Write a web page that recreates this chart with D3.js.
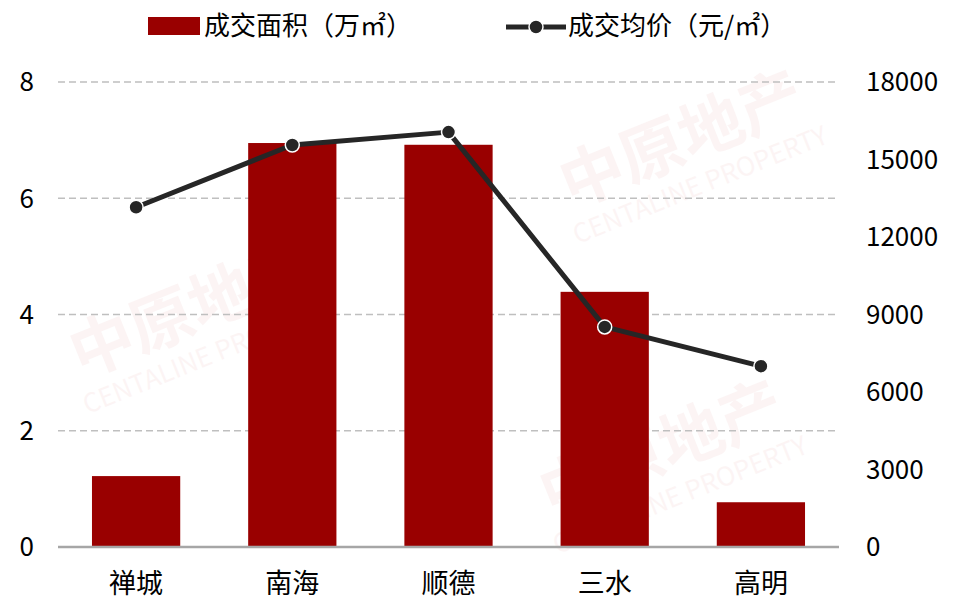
<!DOCTYPE html>
<html>
<head>
<meta charset="utf-8">
<script src="https://cdn.jsdelivr.net/npm/d3@7"></script>
<style>
  body { margin: 0; background: #fff; }
  text { font-family: "Noto Sans CJK SC", "Noto Sans", sans-serif; }
</style>
</head>
<body>
<div id="chart"></div>
<script>
// data
const districts = ["禅城", "南海", "顺德", "三水", "高明"];
const areaVals = [1.22, 6.95, 6.92, 4.39, 0.77];          // 成交面积（万㎡）
const priceVals = [13150, 15560, 16060, 8520, 7000];      // 成交均价（元/㎡）
const leftTicks = [0, 2, 4, 6, 8];
const rightTicks = [0, 3000, 6000, 9000, 12000, 15000, 18000];

const W = 959, H = 606;
const plotL = 58, plotR = 839, plotT = 82, plotB = 547;

const svg = d3.select("#chart").append("svg")
    .attr("width", W)
    .attr("height", H);

// faint watermarks
const marks = [[200, 330], [690, 160], [670, 470]];
marks.forEach(function (m) {
  const g = svg.append("g")
      .attr("transform", `translate(${m[0]},${m[1]}) rotate(-22)`)
      .style("opacity", 0.04);
  g.append("text").attr("x", 0).attr("y", 0)
      .attr("text-anchor", "middle")
      .style("font-size", "64px").style("font-weight", "bold")
      .attr("fill", "#c00000").text("中原地产");
  g.append("text").attr("x", 0).attr("y", 36)
      .attr("text-anchor", "middle")
      .style("font-size", "26px")
      .attr("fill", "#c00000").text("CENTALINE PROPERTY");
});

var x = d3.scaleBand()
    .domain(districts)
    .range([plotL, plotR])
    .paddingInner(0.435)
    .paddingOuter(0.2175);

var y = d3.scaleLinear().domain([0, 8]).range([plotB, plotT]);
var y2 = d3.scaleLinear().domain([0, 18000]).range([plotB, plotT]);

// grid lines
svg.append("g")
  .selectAll("line")
  .data(leftTicks.filter(d => d > 0))
  .enter()
  .append("line")
    .attr("x1", plotL).attr("x2", plotR)
    .attr("y1", d => y(d)).attr("y2", d => y(d))
    .attr("stroke", "#bfbfbf")
    .attr("stroke-width", 1.5)
    .attr("stroke-dasharray", "7,4");

// left axis
svg.append("g")
  .attr("transform", `translate(${plotL - 24},0)`)
  .call(d3.axisLeft(y).tickValues(leftTicks).tickSize(0).tickPadding(0))
  .call(g => g.select(".domain").remove())
  .selectAll("text")
    .style("font-size", "26px")
    .attr("fill", "#000")
    .attr("dy", "0.34em");

// right axis
svg.append("g")
  .attr("transform", `translate(${plotR + 27},0)`)
  .call(d3.axisRight(y2).tickValues(rightTicks).tickFormat(d3.format("d")).tickSize(0).tickPadding(0))
  .call(g => g.select(".domain").remove())
  .selectAll("text")
    .style("font-size", "26px")
    .attr("fill", "#000")
    .attr("dy", "0.34em");

// bars
svg.append("g")
  .selectAll("rect")
  .data(areaVals)
  .enter()
  .append("rect")
    .attr("x", (d, i) => x(districts[i]))
    .attr("width", x.bandwidth())
    .attr("y", d => y(d))
    .attr("height", d => plotB - y(d))
    .attr("fill", "#990000");

// baseline
svg.append("line")
  .attr("x1", plotL).attr("x2", plotR)
  .attr("y1", plotB).attr("y2", plotB)
  .attr("stroke", "#a6a6a6")
  .attr("stroke-width", 2.5);

// category labels
svg.append("g")
  .attr("transform", `translate(0,${plotB + 37})`)
  .call(d3.axisBottom(x).tickSize(0).tickPadding(0))
  .call(g => g.select(".domain").remove())
  .selectAll("text")
    .style("font-size", "27px")
    .attr("fill", "#000")
    .attr("dy", "0.35em");

// price line
var line = d3.line()
  .x((d, i) => x(districts[i]) + x.bandwidth() / 2)
  .y(d => y2(d));

svg.append("path")
  .datum(priceVals)
  .attr("d", line)
  .attr("fill", "none")
  .attr("stroke", "#262626")
  .attr("stroke-width", 5)
  .attr("stroke-linejoin", "round");

svg.append("g")
  .selectAll("circle")
  .data(priceVals)
  .enter()
  .append("circle")
    .attr("cx", (d, i) => x(districts[i]) + x.bandwidth() / 2)
    .attr("cy", d => y2(d))
    .attr("r", 7)
    .attr("fill", "#262626")
    .attr("stroke", "#fff")
    .attr("stroke-width", 1.5);

// legend
const lg = svg.append("g");
lg.append("rect")
  .attr("x", 148).attr("y", 17).attr("width", 52).attr("height", 18)
  .attr("fill", "#990000");
lg.append("text")
  .attr("x", 204).attr("y", 26).attr("dy", "0.35em")
  .style("font-size", "26px").attr("fill", "#000")
  .text("成交面积（万㎡）");
lg.append("line")
  .attr("x1", 506).attr("x2", 566).attr("y1", 27).attr("y2", 27)
  .attr("stroke", "#262626").attr("stroke-width", 5);
lg.append("circle")
  .attr("cx", 536).attr("cy", 27).attr("r", 7)
  .attr("fill", "#262626").attr("stroke", "#fff").attr("stroke-width", 1.5);
lg.append("text")
  .attr("x", 568).attr("y", 26).attr("dy", "0.35em")
  .style("font-size", "26px").attr("fill", "#000")
  .text("成交均价（元/㎡）");
</script>
</body>
</html>
